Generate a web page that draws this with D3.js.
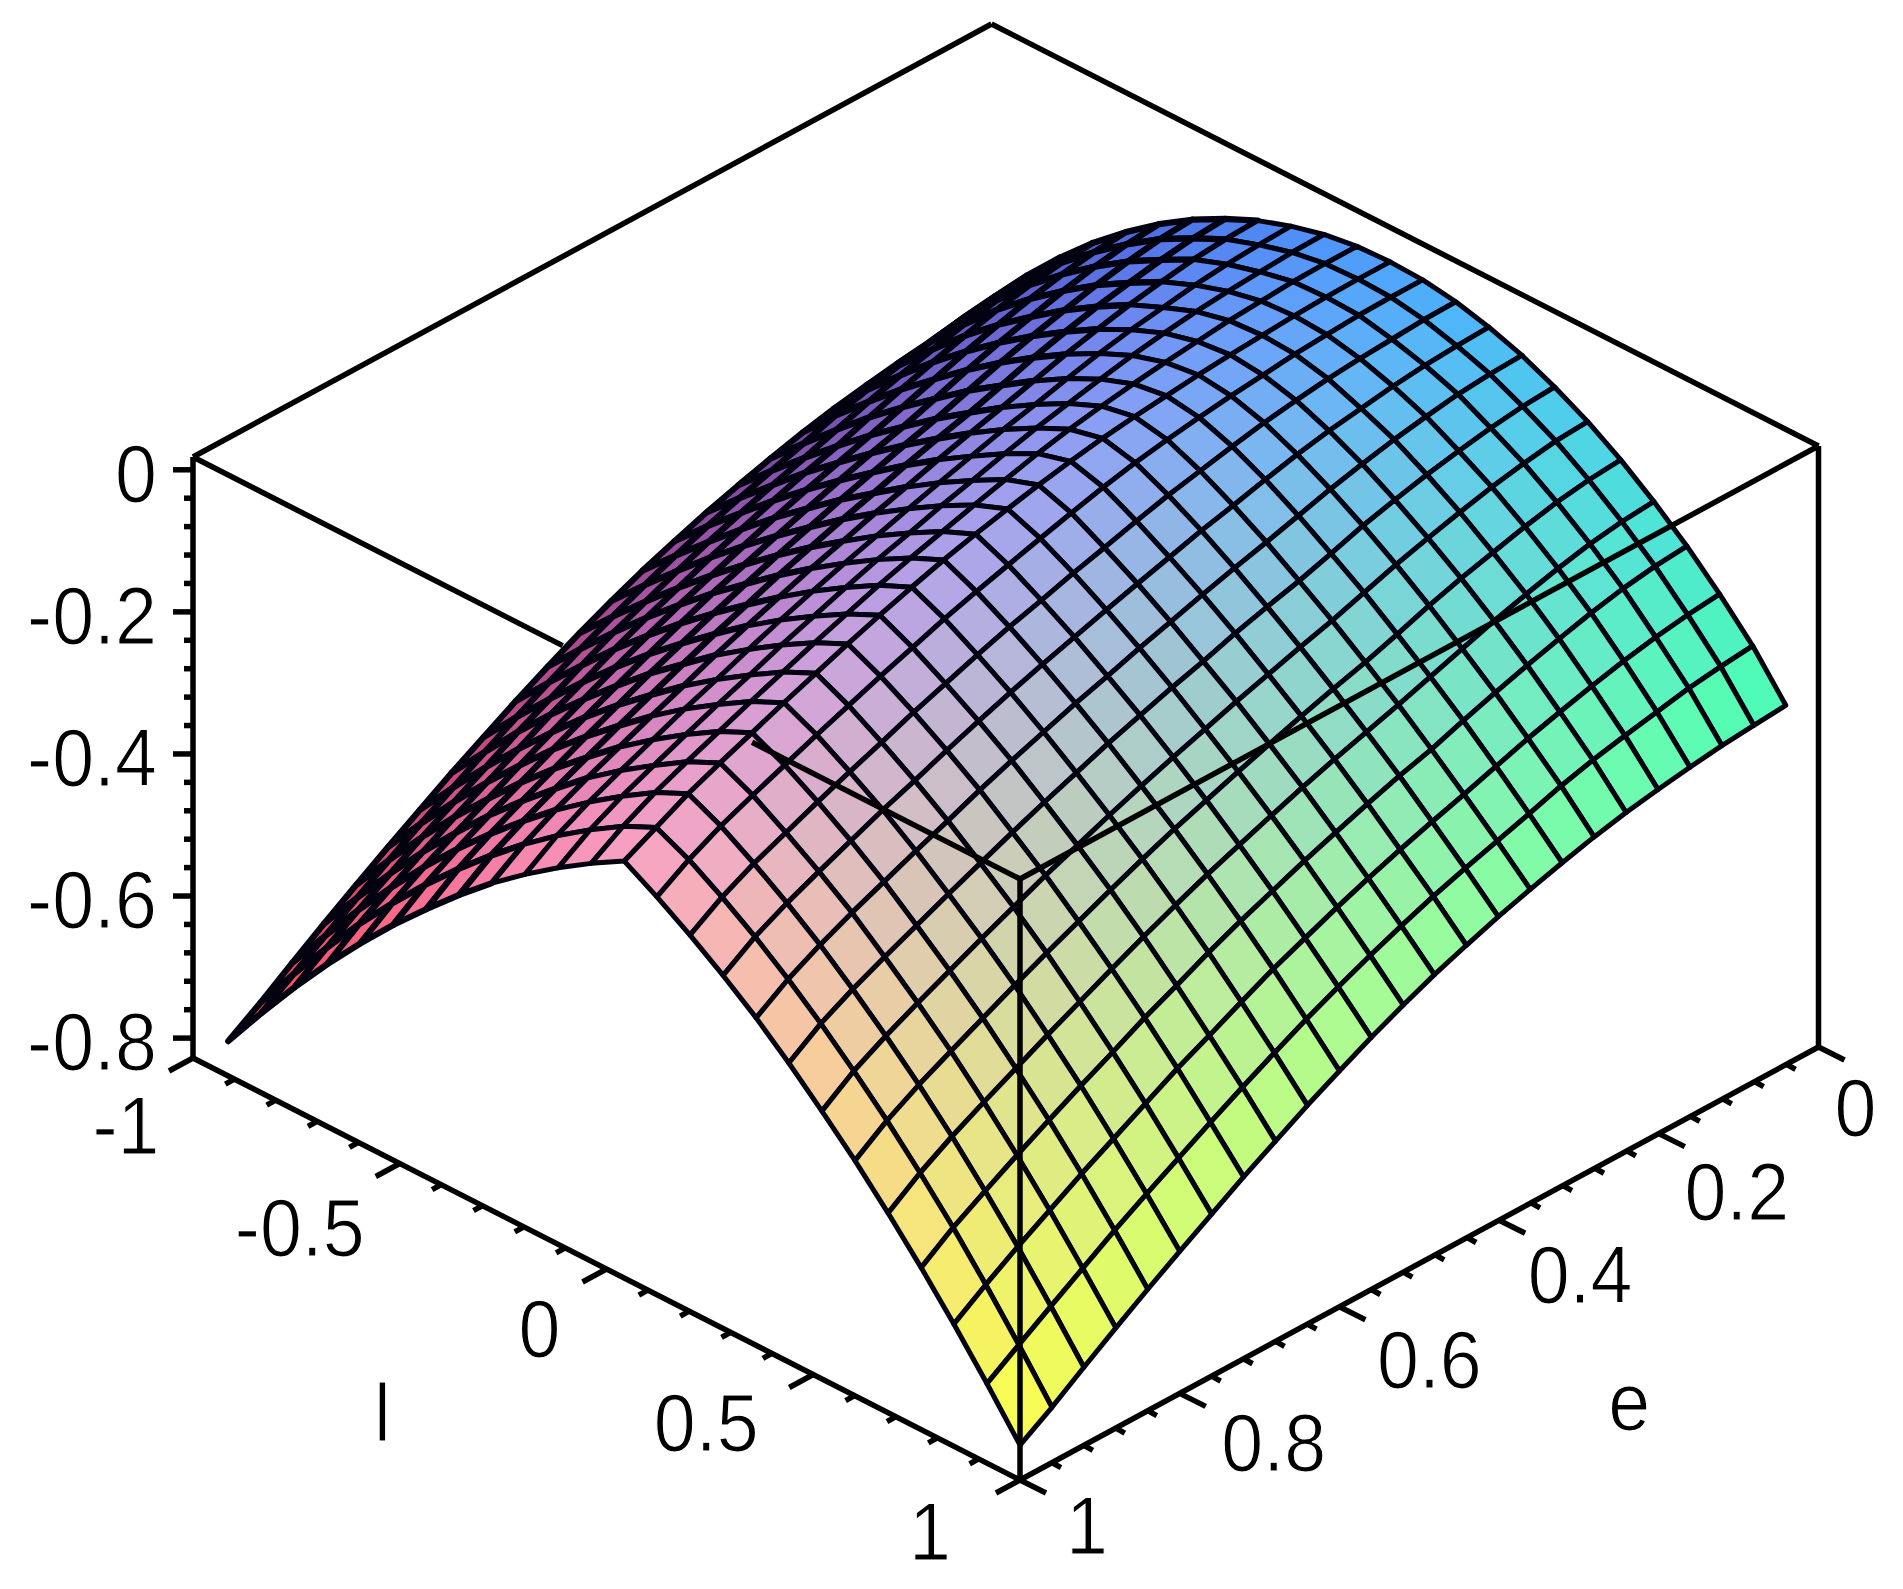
<!DOCTYPE html>
<html>
<head>
<meta charset="utf-8">
<script src="https://cdnjs.cloudflare.com/ajax/libs/d3/7.8.5/d3.min.js"></script>
<style>
  body { margin: 0; background: #fff; }
  text { font-family: "Liberation Sans", sans-serif; font-size: 82px; fill: #000; stroke: #fff; stroke-width: 1.2px; }
</style>
</head>
<body>
<svg></svg>
<script>
// grid positions of the surface
let lValues = [-.915,-.835,-.755,-.676,-.596,-.516,-.436,-.356,-.277,-.197,-.117,-.037,.043,.122,.202,.282,.362,.441,.521,.601,.681,.761,.840,.920,1]
let eValues = [.041,.081,.121,.161,.201,.241,.281,.321,.361,.401,.441,.481,.520,.560,.600,.640,.680,.720,.760,.800,.840,.880,.920,.960,1]

// surface height, one row per e value, one column per l value
let zRows = [
[-.322,-.262,-.213,-.169,-.130,-.095,-.065,-.040,-.019,-.003,.009,.016,.018,.016,.009,-.003,-.019,-.040,-.065,-.095,-.130,-.169,-.213,-.262,-.322],
[-.326,-.267,-.218,-.173,-.134,-.099,-.068,-.043,-.021,-.005,.008,.016,.018,.016,.008,-.005,-.021,-.043,-.068,-.099,-.134,-.173,-.218,-.267,-.326],
[-.330,-.273,-.225,-.180,-.141,-.106,-.075,-.049,-.025,-.008,.005,.015,.017,.015,.005,-.008,-.025,-.049,-.075,-.106,-.141,-.180,-.225,-.273,-.330],
[-.336,-.282,-.234,-.190,-.151,-.116,-.084,-.057,-.032,-.013,.002,.012,.015,.012,.002,-.013,-.032,-.057,-.084,-.116,-.151,-.190,-.234,-.282,-.336],
[-.343,-.291,-.245,-.202,-.163,-.128,-.095,-.066,-.040,-.020,-.002,.009,.012,.009,-.002,-.020,-.040,-.066,-.095,-.128,-.163,-.202,-.245,-.291,-.343],
[-.351,-.301,-.257,-.215,-.176,-.140,-.107,-.077,-.050,-.027,-.008,.004,.009,.004,-.008,-.027,-.050,-.077,-.107,-.140,-.176,-.215,-.257,-.301,-.351],
[-.361,-.313,-.270,-.229,-.191,-.154,-.120,-.089,-.061,-.036,-.015,-.001,.005,-.001,-.015,-.036,-.061,-.089,-.120,-.154,-.191,-.229,-.270,-.313,-.361],
[-.373,-.328,-.285,-.244,-.206,-.170,-.135,-.104,-.074,-.047,-.024,-.007,0,-.007,-.024,-.047,-.074,-.104,-.135,-.170,-.206,-.244,-.285,-.328,-.373],
[-.386,-.342,-.300,-.260,-.221,-.185,-.150,-.118,-.087,-.059,-.034,-.014,-.005,-.014,-.034,-.059,-.087,-.118,-.150,-.185,-.221,-.260,-.300,-.342,-.386],
[-.400,-.356,-.314,-.273,-.235,-.198,-.163,-.130,-.099,-.070,-.044,-.022,-.011,-.022,-.044,-.070,-.099,-.130,-.163,-.198,-.235,-.273,-.314,-.356,-.400],
[-.416,-.371,-.329,-.288,-.249,-.212,-.177,-.143,-.112,-.083,-.056,-.032,-.019,-.032,-.056,-.083,-.112,-.143,-.177,-.212,-.249,-.288,-.329,-.371,-.416],
[-.433,-.388,-.345,-.304,-.264,-.227,-.191,-.158,-.126,-.096,-.069,-.044,-.028,-.044,-.069,-.096,-.126,-.158,-.191,-.227,-.264,-.304,-.345,-.388,-.433],
[-.452,-.406,-.362,-.320,-.280,-.242,-.206,-.171,-.139,-.109,-.081,-.056,-.038,-.056,-.081,-.109,-.139,-.171,-.206,-.242,-.280,-.320,-.362,-.406,-.452],
[-.473,-.426,-.381,-.338,-.297,-.258,-.221,-.186,-.154,-.123,-.095,-.069,-.049,-.069,-.095,-.123,-.154,-.186,-.221,-.258,-.297,-.338,-.381,-.426,-.473],
[-.496,-.447,-.400,-.356,-.314,-.274,-.237,-.201,-.168,-.137,-.108,-.082,-.061,-.082,-.108,-.137,-.168,-.201,-.237,-.274,-.314,-.356,-.400,-.447,-.496],
[-.520,-.470,-.422,-.376,-.333,-.292,-.254,-.218,-.184,-.152,-.123,-.096,-.075,-.096,-.123,-.152,-.184,-.218,-.254,-.292,-.333,-.376,-.422,-.470,-.520],
[-.546,-.494,-.445,-.398,-.353,-.311,-.272,-.235,-.200,-.168,-.139,-.112,-.090,-.112,-.139,-.168,-.200,-.235,-.272,-.311,-.353,-.398,-.445,-.494,-.546],
[-.572,-.519,-.467,-.419,-.374,-.331,-.290,-.253,-.217,-.185,-.155,-.128,-.106,-.128,-.155,-.185,-.217,-.253,-.290,-.331,-.374,-.419,-.467,-.519,-.572],
[-.600,-.545,-.492,-.443,-.396,-.351,-.310,-.272,-.236,-.203,-.173,-.145,-.123,-.145,-.173,-.203,-.236,-.272,-.310,-.351,-.396,-.443,-.492,-.545,-.600],
[-.628,-.571,-.517,-.466,-.418,-.372,-.330,-.291,-.254,-.220,-.190,-.162,-.140,-.162,-.190,-.220,-.254,-.291,-.330,-.372,-.418,-.466,-.517,-.571,-.628],
[-.657,-.598,-.542,-.490,-.441,-.394,-.351,-.311,-.273,-.239,-.208,-.180,-.158,-.180,-.208,-.239,-.273,-.311,-.351,-.394,-.441,-.490,-.542,-.598,-.657],
[-.687,-.627,-.569,-.515,-.464,-.416,-.372,-.331,-.292,-.258,-.227,-.198,-.176,-.198,-.227,-.258,-.292,-.331,-.372,-.416,-.464,-.515,-.569,-.627,-.687],
[-.718,-.656,-.596,-.541,-.488,-.439,-.394,-.352,-.313,-.278,-.246,-.217,-.195,-.217,-.246,-.278,-.313,-.352,-.394,-.439,-.488,-.541,-.596,-.656,-.718],
[-.750,-.686,-.625,-.568,-.515,-.465,-.419,-.376,-.337,-.301,-.269,-.240,-.218,-.240,-.269,-.301,-.337,-.376,-.419,-.465,-.515,-.568,-.625,-.686,-.750],
[-.779,-.716,-.656,-.600,-.547,-.497,-.451,-.407,-.367,-.331,-.298,-.268,-.241,-.268,-.298,-.331,-.367,-.407,-.451,-.497,-.547,-.600,-.656,-.716,-.779]
]

// tick labels
let zTicks = ['0', '-0.2', '-0.4', '-0.6', '-0.8']
let lTicks = ['-1', '-0.5', '0', '0.5', '1']
let eTicks = ['0', '0.2', '0.4', '0.6', '0.8', '1']

// axis limits of the box
let lRange = [-1, 1]
let eRange = [0, 1]
let zRange = [-.828, .018]

// part of the top front-left edge that the hump hides, in l
let hiddenEdge = [-.106, .352]

let width = 1903, height = 1589
let svg = d3.select('svg').attr('width', width).attr('height', height)

// oblique box: every axis gets its own x and y scale, offset from the back floor corner
let origin = [991.5, 625]
let lx = d3.scaleLinear().domain(lRange).range([0, 827])
let ly = d3.scaleLinear().domain(lRange).range([0, 422])
let ex = d3.scaleLinear().domain(eRange).range([0, -798.5])
let ey = d3.scaleLinear().domain(eRange).range([0, 433])
let zy = d3.scaleLinear().domain(zRange).range([0, -601])

function project(l, e, z) {
  return [origin[0] + lx(l) + ex(e), origin[1] + ly(l) + ey(e) + zy(z)]
}

// colour follows position: red with e, green with l, blue with height
let red = d3.scaleLinear().domain([.041, 1]).range([75, 250])
let green = d3.scaleLinear().domain([-.915, 1]).range([70, 255])
let blue = d3.scaleLinear().domain([-.78, .018]).range([75, 250])

// cells from back to front so the nearer ones paint over
let cells = []
d3.range(eValues.length - 1).forEach(function(i) {
  d3.range(lValues.length - 1).forEach(function(j) {
    cells.push({i: i, j: j})
  })
})

let line = d3.line()

svg.selectAll('path.cell')
  .data(cells)
  .enter().append('path')
  .attr('class', 'cell')
  .attr('d', function(d) {
    let corners = [[d.i, d.j], [d.i, d.j + 1], [d.i + 1, d.j + 1], [d.i + 1, d.j]]
    return line(corners.map(function(c) { return project(lValues[c[1]], eValues[c[0]], zRows[c[0]][c[1]]) })) + 'Z'
  })
  .attr('fill', function(d) {
    let e = (eValues[d.i] + eValues[d.i + 1]) / 2
    let l = (lValues[d.j] + lValues[d.j + 1]) / 2
    let z = (zRows[d.i][d.j] + zRows[d.i][d.j + 1] + zRows[d.i + 1][d.j] + zRows[d.i + 1][d.j + 1]) / 4
    return d3.rgb(red(e), green(l), blue(z))
  })
  .attr('stroke', '#020210')
  // the mesh closes up on the far slope, lines there run together in the reference
  .attr('stroke-width', function(d) { return d.j < 8 ? 6.2 : 5 })
  .attr('stroke-linejoin', 'round')

// box edges
let zTop = zRange[1], zBot = zRange[0]
let edges = [
  [[-1, 1, zTop], [-1, 0, zTop]],
  [[-1, 0, zTop], [1, 0, zTop]],
  [[-1, 1, zTop], [hiddenEdge[0], 1, zTop]],
  [[hiddenEdge[1], 1, zTop], [1, 1, zTop]],
  [[1, 0, zTop], [1, 1, zTop]],
  [[-1, 1, zTop], [-1, 1, zBot]],
  [[1, 0, zTop], [1, 0, zBot]],
  [[1, 1, zTop], [1, 1, zBot]],
  [[-1, 1, zBot], [1, 1, zBot]],
  [[1, 0, zBot], [1, 1, zBot]]
]

svg.selectAll('path.edge')
  .data(edges)
  .enter().append('path')
  .attr('class', 'edge')
  .attr('d', function(d) { return line(d.map(function(p) { return project(p[0], p[1], p[2]) })) })
  .attr('stroke', '#000')
  .attr('stroke-width', 5.5)
  .attr('fill', 'none')

// tick marks, each as a start point and the way it points
function tickLine(p, dx, dy) {
  return 'M' + p[0] + ',' + p[1] + 'l' + dx + ',' + dy
}

let ticks = svg.append('g').attr('stroke', '#000').attr('stroke-width', 5.5).attr('fill', 'none')

d3.range(0, 21).forEach(function(n) {
  let major = n % 5 == 0
  ticks.append('path').attr('d', tickLine(project(-1, 1, -n * .04), major ? -20 : -9, 0))
})
d3.range(0, 21).forEach(function(n) {
  let major = n % 5 == 0
  ticks.append('path').attr('d', tickLine(project(-1 + n * .1, 1, zBot), major ? -24 : -9, major ? 13 : 5))
})
d3.range(0, 26).forEach(function(n) {
  let major = n % 5 == 0
  ticks.append('path').attr('d', tickLine(project(1, n * .04, zBot), major ? 26 : 9, major ? 13 : 5))
})

// the reference type is tall and narrow, so squeeze each label sideways
function place(sel, pos) {
  sel.attr('transform', function(d, i) {
    let p = pos(d, i)
    return 'translate(' + p[0] + ',' + p[1] + ') scale(.92,1)'
  })
}

// labels do not follow the axis evenly, so each has its own nudge from its tick
let lNudge = [[-67, 96], [-100, 92], [-67, 88], [-107, 76], [-90, 80]]
let eNudge = [[37, 89], [78, 86], [81, 83], [90, 81], [94, 78], [67, 74]]

svg.selectAll('text.z')
  .data(zTicks)
  .enter().append('text')
  .attr('class', 'z')
  .attr('text-anchor', 'end')
  .call(place, function(d) {
    let p = project(-1, 1, +d)
    return [p[0] - 36, p[1] + 32]
  })
  .text(function(d) { return d })

svg.selectAll('text.l')
  .data(lTicks)
  .enter().append('text')
  .attr('class', 'l')
  .attr('text-anchor', 'middle')
  .call(place, function(d, i) {
    let p = project(+d, 1, zBot)
    return [p[0] + lNudge[i][0], p[1] + lNudge[i][1]]
  })
  .text(function(d) { return d })

svg.selectAll('text.e')
  .data(eTicks)
  .enter().append('text')
  .attr('class', 'e')
  .attr('text-anchor', 'middle')
  .call(place, function(d, i) {
    let p = project(1, +d, zBot)
    return [p[0] + eNudge[i][0], p[1] + eNudge[i][1]]
  })
  .text(function(d) { return d })

// axis titles
svg.append('text').datum('l').attr('text-anchor', 'middle')
  .call(place, function() {
    let p = project(0, 1, zBot)
    return [p[0] - 224, p[1] + 172]
  })
  .text('l')
svg.append('text').datum('e').attr('text-anchor', 'middle')
  .call(place, function() {
    let p = project(1, .5, zBot)
    return [p[0] + 210, p[1] + 166]
  })
  .text('e')
</script>
</body>
</html>
